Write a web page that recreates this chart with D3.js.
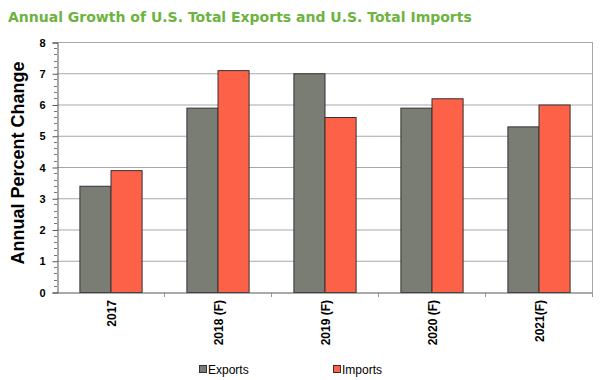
<!DOCTYPE html>
<html><head><meta charset="utf-8">
<script src="https://cdn.jsdelivr.net/npm/d3@7"></script>
<style>body{margin:0;background:#fff}svg{display:block}</style>
</head><body>
<svg id="c" width="611" height="380"></svg>
<script>
const categories = ["2017", "2018 (F)", "2019 (F)", "2020 (F)", "2021(F)"];
const exportsVals = [3.4, 5.9, 7.0, 5.9, 5.3];
const importsVals = [3.9, 7.1, 5.6, 6.2, 6.0];
const seriesNames = ["Exports", "Imports"];
const yTicks = [0, 1, 2, 3, 4, 5, 6, 7, 8];
const colors = ["#7a7d74", "#fd6249"];
const AR = "'Liberation Sans', Arial, sans-serif";

const svg = d3.select("#c");
const m = {l: 57, r: 592, t: 42, b: 292};
const x = d3.scaleBand().domain(categories).range([m.l, m.r]).paddingInner(0).paddingOuter(0);
const y = d3.scaleLinear().domain([0, 8]).range([m.b, m.t]);

svg.append("text").attr("x", 8).attr("y", 22)
  .attr("font-family", "'DejaVu Sans', Verdana, sans-serif").attr("font-weight", "bold")
  .attr("font-size", 14).attr("fill", "#6db33f")
  .text("Annual Growth of U.S. Total Exports and U.S. Total Imports");

// gridlines
svg.append("g").selectAll("line").data(yTicks.filter(d => d > 0)).join("line")
  .attr("x1", m.l).attr("x2", m.r).attr("y1", d => y(d) + 0.5).attr("y2", d => y(d) + 0.5)
  .attr("stroke", "#a8a8a8").attr("stroke-width", 1);
svg.append("line").attr("x1", m.r + 0.5).attr("x2", m.r + 0.5).attr("y1", m.t).attr("y2", m.b)
  .attr("stroke", "#a8a8a8");

// bars
const inner = d3.scaleBand().domain(seriesNames).range([0, x.bandwidth()]).paddingOuter(0.72).paddingInner(0);
const data = categories.map((c, i) => ({c, vals: [exportsVals[i], importsVals[i]]}));
const g = svg.append("g");
data.forEach(d => {
  d.vals.forEach((v, j) => {
    g.append("rect")
      .attr("x", x(d.c) + inner(seriesNames[j]) + 0.5)
      .attr("y", y(v) + 0.5)
      .attr("width", inner.bandwidth())
      .attr("height", y(0) - y(v))
      .attr("fill", colors[j]).attr("stroke", "#333").attr("stroke-width", 1);
  });
});

// y axis
const yAxis = d3.axisLeft(y).tickValues(yTicks).tickSize(5).tickFormat(d3.format("d"));
const ya = svg.append("g").attr("transform", `translate(${m.l + 0.5},0.5)`).call(yAxis);
ya.select(".domain").attr("stroke", "#555");
ya.selectAll(".tick line").attr("stroke", "#555");
ya.selectAll("text").attr("font-family", AR).attr("font-weight", "bold")
  .attr("font-size", 11).attr("fill", "#000").attr("x", -12);
// minor ticks
const minor = d3.range(0, 8.001, 0.2).filter(v => Math.abs(v - Math.round(v)) > 0.01);
svg.append("g").selectAll("line").data(minor).join("line")
  .attr("x1", m.l - 3).attr("x2", m.l).attr("y1", d => Math.round(y(d)) + 0.5).attr("y2", d => Math.round(y(d)) + 0.5)
  .attr("stroke", "#777");

// x axis
const xAxis = d3.axisBottom(x).tickSize(0).tickFormat("");
const xa = svg.append("g").attr("transform", `translate(0,${m.b + 0.5})`).call(xAxis);
xa.select(".domain").attr("stroke", "#555");
svg.append("g").selectAll("line").data(categories.slice(1).concat(["end"])).join("line")
  .attr("x1", d => d === "end" ? m.r + 0.5 : x(d) + 0.5).attr("x2", d => d === "end" ? m.r + 0.5 : x(d) + 0.5)
  .attr("y1", m.b).attr("y2", m.b + 5).attr("stroke", "#999");
svg.append("g").selectAll("text").data(categories).join("text")
  .attr("transform", d => `translate(${x(d) + x.bandwidth() / 2 + 5},${m.b + 8}) rotate(-90)`)
  .attr("text-anchor", "end")
  .attr("font-family", AR).attr("font-weight", "bold")
  .attr("font-size", 12).text(d => d);

// y title
svg.append("text").attr("transform", `translate(24,163) rotate(-90)`)
  .attr("text-anchor", "middle").attr("font-family", AR)
  .attr("font-weight", "bold").attr("font-size", 18).text("Annual Percent Change");

// legend
const lx = [199, 333];
seriesNames.forEach((s, i) => {
  svg.append("rect").attr("x", lx[i] + 0.5).attr("y", 365.5).attr("width", 7).attr("height", 7)
    .attr("fill", colors[i]).attr("stroke", "#333");
  svg.append("text").attr("x", lx[i] + 9).attr("y", 373.5).attr("font-family", AR)
    .attr("font-size", 12).text(s);
});
</script>
</body></html>
